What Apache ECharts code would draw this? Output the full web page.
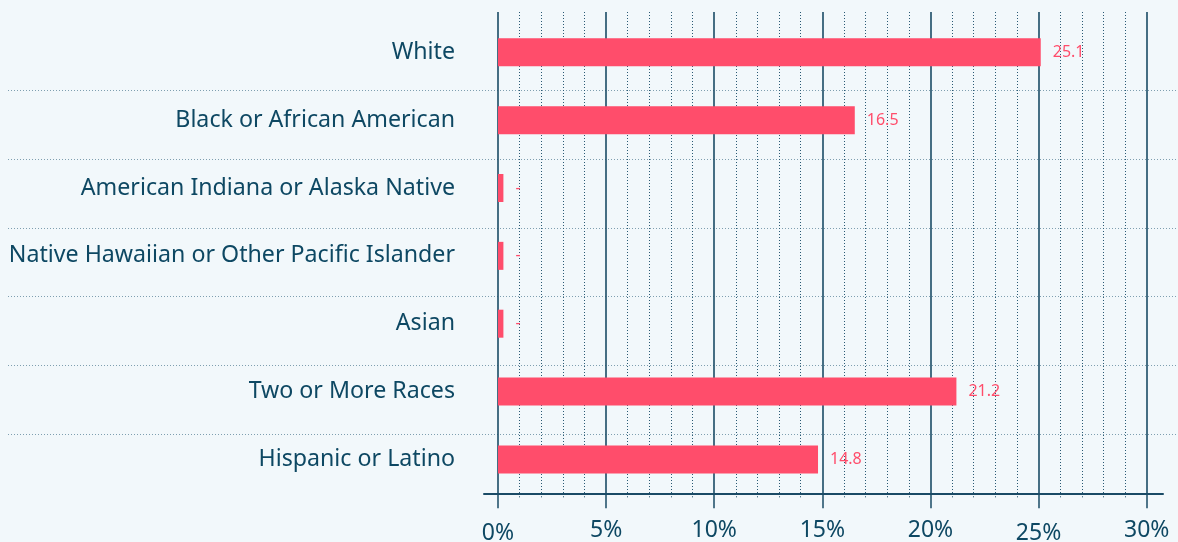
<!DOCTYPE html>
<html>
<head>
<meta charset="utf-8">
<script src="https://cdn.jsdelivr.net/npm/echarts@6/dist/echarts.min.js"></script>
<style>
html,body{margin:0;padding:0;background:#f2f8fb;}
#c{width:1178px;height:542px;}
</style>
</head>
<body>
<div id="c"></div>
<script>
const categories = ['White','Black or African American','American Indiana or Alaska Native','Native Hawaiian or Other Pacific Islander','Asian','Two or More Races','Hispanic or Latino'];
const values = [25.1, 16.5, 0.25, 0.25, 0.25, 21.2, 14.8];
const valueLabels = ['25.1','16.5','-','-','-','21.2','14.8'];
const xTicks = [0, 5, 10, 15, 20, 25, 30];
const xTickLabels = ['0%','5%','10%','15%','20%','25%','30%'];
const lowTicks = [0, 25];

const TXT = '#0e4863';
const PINK = '#ff4d6b';
const FONT = 'Noto Sans';

const chart = echarts.init(document.getElementById('c'));
const W = 1178, H = 542;
const x0 = 498, x30 = 1146.7, axisY = 493.3;

chart.setOption({
  backgroundColor: '#f2f8fb',
  animation: false,
  textStyle: {fontFamily: FONT},
  grid: [
    {left: x0, right: W - x30, top: 18.4, bottom: H - 493.3, outerBoundsMode: 'none', containLabel: false},
    {left: x0, right: W - x30, top: 12, bottom: H - axisY, outerBoundsMode: 'none', containLabel: false},
    {left: 484, right: W - 1163, top: 12, bottom: H - axisY, outerBoundsMode: 'none', containLabel: false},
    {left: 8, right: 0, top: 21.8, height: 7 * 68.7, outerBoundsMode: 'none', containLabel: false}
  ],
  xAxis: [
    {gridIndex: 0, type: 'value', min: 0, max: 30, interval: 5, show: false},
    {gridIndex: 1, type: 'value', min: 0, max: 30, interval: 5,
      axisLine: {show: false},
      axisTick: {show: true, length: 15, lineStyle: {color: '#1a4b66', width: 1.5}},
      minorTick: {show: true, splitNumber: 5, length: 5, lineStyle: {color: '#1a4b66', width: 1, type: [1, 2]}},
      splitLine: {show: true, lineStyle: {color: '#1a4b66', width: 1.6}},
      minorSplitLine: {show: true, lineStyle: {color: '#2a5a74', width: 1, type: [1, 2]}},
      axisLabel: {
        margin: 26, fontSize: 23, color: TXT, fontFamily: FONT,
        formatter: function (v) {
          const i = xTicks.indexOf(v);
          const t = i >= 0 ? xTickLabels[i] : '';
          return lowTicks.indexOf(v) >= 0 ? '{lo|' + t + '}' : '{hi|' + t + '}';
        },
        rich: {
          hi: {fontSize: 23, color: TXT, fontFamily: FONT},
          lo: {fontSize: 23, color: TXT, fontFamily: FONT, padding: [3, 0, 0, 0]}
        }
      }
    },
    {gridIndex: 2, type: 'value', min: 0, max: 1,
      axisLine: {show: true, lineStyle: {color: '#1a4b66', width: 2}},
      axisTick: {show: false}, axisLabel: {show: false}, splitLine: {show: false}},
    {gridIndex: 3, type: 'value', show: false}
  ],
  yAxis: [
    {gridIndex: 0, type: 'category', data: categories, inverse: true,
      axisLine: {show: false}, axisTick: {show: false}, splitLine: {show: false},
      axisLabel: {margin: 43, fontSize: 23.2, color: TXT, fontFamily: FONT}},
    {gridIndex: 1, type: 'value', show: false},
    {gridIndex: 2, type: 'value', show: false},
    {gridIndex: 3, type: 'category', data: categories, inverse: true,
      axisLine: {show: false}, axisTick: {show: false}, axisLabel: {show: false},
      splitLine: {show: true, showMinLine: false, showMaxLine: false,
        lineStyle: {color: '#7f9fb0', width: 1, type: [1, 2]}}}
  ],
  series: [{
    type: 'bar',
    xAxisIndex: 0, yAxisIndex: 0,
    data: values,
    barWidth: 28,
    itemStyle: {color: PINK},
    label: {
      show: true, position: 'right', distance: 12,
      color: PINK, fontSize: 16, fontFamily: FONT,
      formatter: function (p) { return valueLabels[p.dataIndex]; }
    },
    z: 5
  }]
});
</script>
</body>
</html>
